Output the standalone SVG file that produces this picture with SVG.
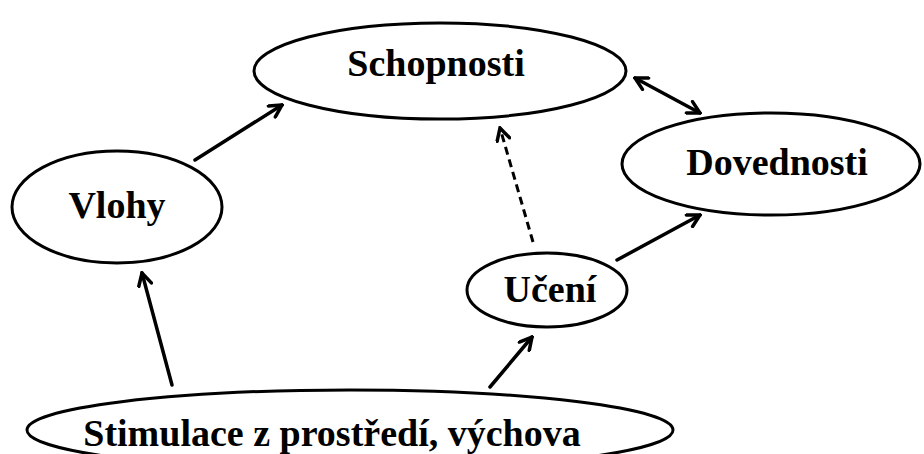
<svg xmlns="http://www.w3.org/2000/svg" width="924" height="454" viewBox="0 0 924 454">
<style>
.node ellipse{fill:#fff;stroke:#000;stroke-width:3}
.node text{font-family:"Liberation Serif","Times New Roman",serif;font-weight:bold;font-size:38px;fill:#000;text-anchor:middle}
.edge{stroke:#000;stroke-width:3.5;fill:none;stroke-linecap:round}
.dash{stroke-dasharray:8 5;stroke-width:3;stroke-linecap:butt}
</style>
<defs>
<marker id="ah" viewBox="0 0 16 16" refX="14" refY="8" markerWidth="16" markerHeight="16" markerUnits="userSpaceOnUse" orient="auto-start-reverse">
<path d="M2,1.5 L14,8 L2,14.5" fill="none" stroke="#000" stroke-width="3.5" stroke-linecap="round" stroke-linejoin="miter"/>
</marker>
</defs>
<rect width="924" height="454" fill="#fff"/>
<g id="connectors">
<line class="edge" x1="195" y1="160" x2="282" y2="105" marker-end="url(#ah)"/>
<line class="edge" x1="172" y1="385" x2="142" y2="273" marker-end="url(#ah)"/>
<line class="edge" x1="490" y1="387" x2="532" y2="337" marker-end="url(#ah)"/>
<line class="edge" x1="617" y1="260" x2="700" y2="215" marker-end="url(#ah)"/>
<line class="edge dash" x1="533" y1="242" x2="500" y2="128" marker-end="url(#ah)"/>
<line class="edge" x1="635" y1="78" x2="700" y2="113" marker-start="url(#ah)" marker-end="url(#ah)"/>
</g>
<g id="schopnosti" class="node">
<ellipse cx="440" cy="71" rx="186" ry="48"/>
<text x="436" y="76">Schopnosti</text>
</g>
<g id="dovednosti" class="node">
<ellipse cx="771" cy="164" rx="149" ry="51"/>
<text x="777" y="175">Dovednosti</text>
</g>
<g id="vlohy" class="node">
<ellipse cx="117" cy="207" rx="105" ry="56"/>
<text x="117" y="218">Vlohy</text>
</g>
<g id="uceni" class="node">
<ellipse cx="547" cy="290" rx="80" ry="37"/>
<text x="550" y="302">Učení</text>
</g>
<g id="stimulace" class="node">
<ellipse cx="350" cy="430" rx="323" ry="40"/>
<text x="332" y="446">Stimulace z prostředí, výchova</text>
</g>
</svg>
